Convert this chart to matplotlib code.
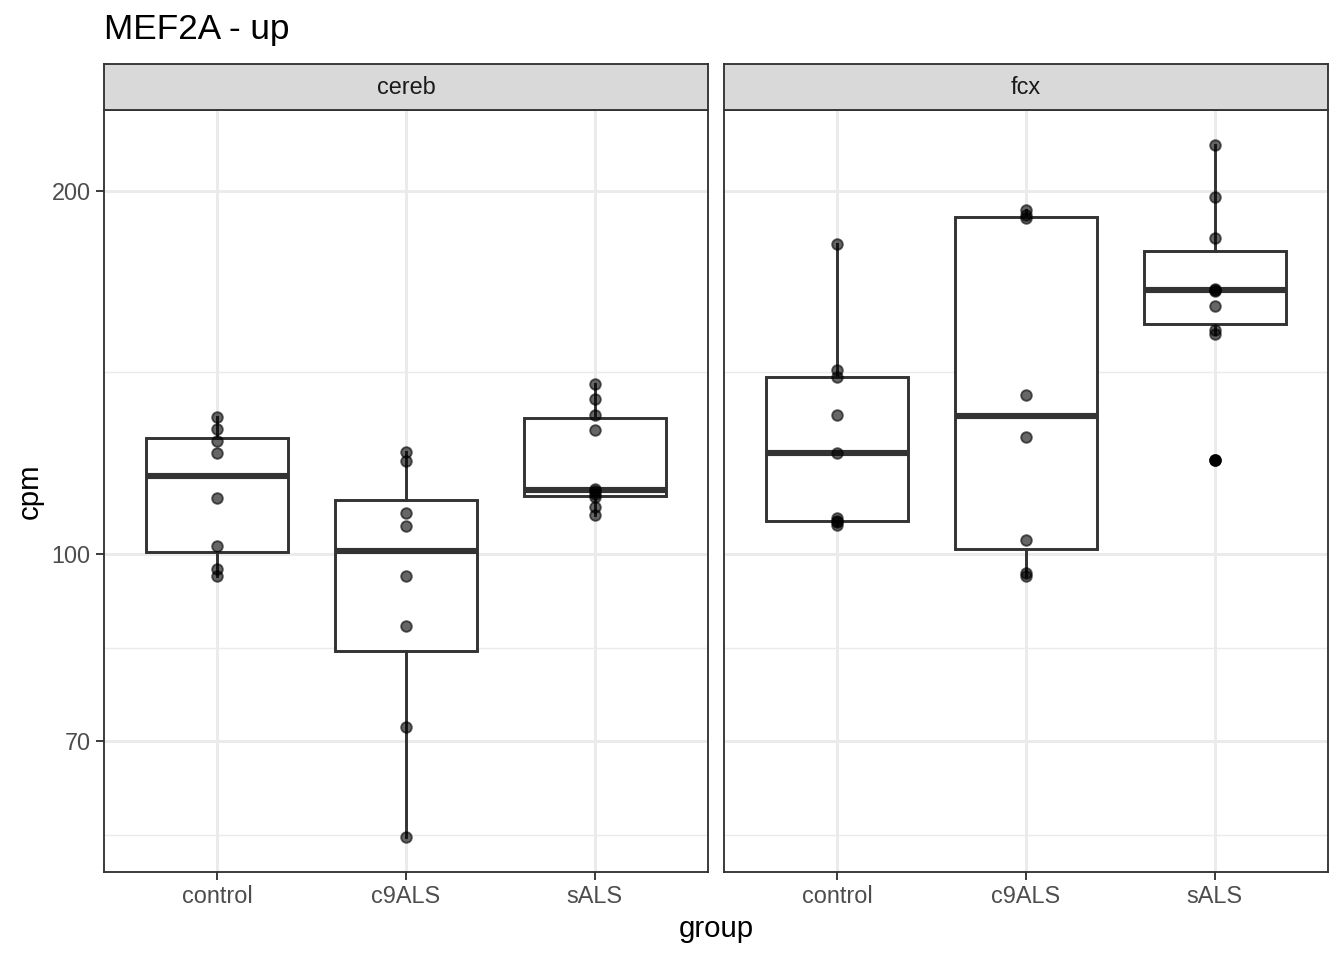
import numpy as np
import matplotlib
matplotlib.use('Agg')
import matplotlib.pyplot as plt
from matplotlib import cbook
from matplotlib.ticker import FixedLocator, NullFormatter

plt.rcParams['font.family'] = ['Liberation Sans', 'DejaVu Sans']

# values (cpm)
groups = ['control', 'c9ALS', 'sALS']
regions = ['cereb', 'fcx']

cereb_control = [129.9, 127.0, 124.1, 121.3, 111.3, 101.6, 97.2, 95.9]
cereb_c9als = [121.5, 119.4, 108.2, 105.5, 95.9, 87.2, 71.9, 58.3]
cereb_sals = [138.4, 134.5, 130.5, 126.8, 113.3, 112.9, 112.2, 111.5, 109.4, 107.7]
fcx_control = [180.6, 142.2, 140.2, 130.4, 121.4, 107.2, 106.6, 106.3, 105.8]
fcx_c9als = [192.8, 191.0, 189.8, 135.4, 125.0, 102.7, 96.4, 95.9]
fcx_sals = [218.3, 197.5, 182.6, 165.7, 165.5, 165.3, 160.6, 153.2, 152.2, 119.6]

panel_data = {
    'cereb': [cereb_control, cereb_c9als, cereb_sals],
    'fcx': [fcx_control, fcx_c9als, fcx_sals],
}

y_major = [70, 100, 200]
y_major_ext = [49, 70, 100, 200, 400]
y_minor = [np.sqrt(a * b) for a, b in zip(y_major_ext[:-1], y_major_ext[1:])]

W, H = 1344, 960


def rect(l, t, r, b):
    return [l / W, 1 - b / H, (r - l) / W, (b - t) / H]


# log-space limits with 5% expansion (like ggplot)
allv = np.log10(np.concatenate([np.array(v) for g in panel_data.values() for v in g]))
span = allv.max() - allv.min()
ylo, yhi = 10 ** (allv.min() - 0.05 * span), 10 ** (allv.max() + 0.05 * span)

fig = plt.figure(figsize=(7, 5), dpi=192)
fig.patch.set_facecolor('white')

panels = [(104, 708), (724, 1328)]
for k, (reg, (l, r)) in enumerate(zip(regions, panels)):
    ax = fig.add_axes(rect(l, 110, r, 872))
    ax.set_yscale('log')

    for i, vals in enumerate(panel_data[reg]):
        st = cbook.boxplot_stats(np.log10(vals), whis=1.5)[0]
        for key in ['med', 'q1', 'q3', 'whislo', 'whishi', 'mean', 'cilo', 'cihi']:
            st[key] = 10 ** st[key]
        st['fliers'] = 10 ** np.asarray(st['fliers'])
        ax.bxp([st], positions=[i + 1], widths=0.75, showcaps=False,
               showfliers=True, patch_artist=True, zorder=2, manage_ticks=False,
               boxprops=dict(facecolor='white', edgecolor='#333333', lw=1.1),
               whiskerprops=dict(color='#333333', lw=1.1),
               medianprops=dict(color='#333333', lw=2.3, solid_capstyle='butt'),
               flierprops=dict(marker='o', markerfacecolor='black',
                               markeredgecolor='black', markersize=4.0,
                               markeredgewidth=0.7, linestyle='none'))
        ax.plot([i + 1] * len(vals), vals, 'o', color='black', alpha=0.6,
                markersize=4.0, markeredgewidth=0.7, zorder=3)

    ax.set_xlim(0.4, 3.6)
    ax.set_ylim(ylo, yhi)
    ax.yaxis.set_major_locator(FixedLocator(y_major))
    ax.yaxis.set_minor_locator(FixedLocator(y_minor))
    ax.yaxis.set_minor_formatter(NullFormatter())
    ax.set_yticklabels([str(v) for v in y_major])
    ax.set_xticks([1, 2, 3])
    ax.set_xticklabels(groups)

    ax.grid(which='major', color='#EBEBEB', lw=1.1, zorder=0)
    ax.grid(which='minor', axis='y', color='#EBEBEB', lw=0.55, zorder=0)
    ax.set_axisbelow(True)

    ax.tick_params(which='major', length=3.0, width=0.7, color='#333333',
                   labelcolor='#4D4D4D', labelsize=8.8, pad=2)
    ax.tick_params(which='minor', length=0)
    if k == 1:
        ax.tick_params(axis='y', left=False, labelleft=False)
    for s in ax.spines.values():
        s.set_color('#333333')
        s.set_linewidth(0.7)
        s.set_zorder(5)

    # facet strip
    sax = fig.add_axes(rect(l, 64, r, 110))
    sax.set_facecolor('#D9D9D9')
    sax.set_xticks([])
    sax.set_yticks([])
    for s in sax.spines.values():
        s.set_color('#333333')
        s.set_linewidth(0.7)
    sax.text(0.5, 0.5, reg, ha='center', va='center', fontsize=8.8,
             color='#1A1A1A', transform=sax.transAxes)

fig.text(104 / W, 1 - 30 / H, 'MEF2A - up', ha='left', va='center', fontsize=13.2)
fig.text(716 / W, 1 - 929 / H, 'group', ha='center', va='center', fontsize=11)
fig.text(30 / W, 1 - 491 / H, 'cpm', ha='center', va='center', fontsize=11,
         rotation=90)

fig.savefig('out.png', dpi=192)
